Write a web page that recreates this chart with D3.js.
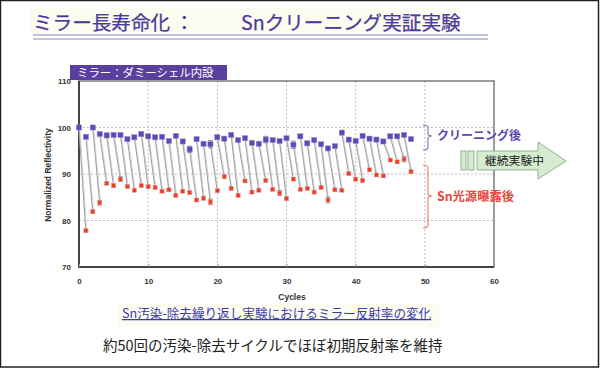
<!DOCTYPE html>
<html><head><meta charset="utf-8">
<script src="https://cdn.jsdelivr.net/npm/d3@7"></script>
<style>html,body{margin:0;padding:0;background:#fff;}svg{display:block;}</style>
</head><body>
<script>
// ---- data ----
const blueCycles = [0,1,2,3,4,5,6,7,8,9,10,11,12,13,14,15,16,17,18,19,20,21,22,23,24,25,26,27,28,29,30,31,32,33,34,35,36,37,38,39,40,41,42,43,44,45,46,47,48];
const cleanedValues = [100,98.0,100,98.6,98.3,98.4,98.4,97.5,97.9,98.6,98.1,97.9,98.0,97.1,98.2,97.0,95.3,97.5,96.5,96.4,97.9,97.6,98.4,97.3,97.7,96.7,96.5,97.4,97.3,97.1,97.7,96.3,98.1,96.6,97.3,96.4,95.5,96.0,98.9,97.4,97.1,98.2,97.6,97.4,97.0,98.1,98.1,98.4,97.5];
const cleanedErr = [0.2,0.3,0.2,0.3,0.5,0.3,0.3,0.3,0.3,0.4,0.3,0.3,0.3,0.3,0.3,0.3,0.7,0.3,0.3,0.8,0.3,0.3,0.3,0.3,0.3,0.3,0.3,0.7,0.3,0.3,0.3,0.8,0.3,0.3,0.3,0.3,0.3,0.3,0.3,0.3,0.3,0.3,0.3,0.3,0.3,0.3,0.3,0.3,0.3];
const redCycles = [1,2,3,4,5,6,7,8,9,10,11,12,13,14,15,16,17,18,19,20,21,22,23,24,25,26,27,28,29,30,31,32,33,34,35,36,37,38,39,40,41,42,43,44,45,46,47,48];
const exposedValues = [77.8,81.9,83.8,88.0,87.5,88.9,87.3,86.5,87.5,87.3,87.1,86.3,86.6,85.4,86.3,86.0,84.4,84.8,84.0,86.4,89.4,86.9,85.4,88.5,86.1,86.5,88.6,86.7,85.9,84.7,88.9,86.7,86.9,86.1,87.1,84.4,86.6,86.5,90.1,88.9,88.6,90.9,89.8,89.6,93.0,92.6,93.2,90.5];
const exposedErr = [0.3,0.3,0.5,0.3,0.4,0.5,0.3,0.3,0.3,0.3,0.3,0.3,0.3,0.3,0.3,0.3,0.3,0.4,0.6,0.3,0.4,0.3,0.3,0.3,0.3,0.3,0.3,0.3,0.5,0.3,0.3,0.3,0.3,0.3,0.3,0.6,0.3,0.3,0.3,0.3,0.3,0.3,0.3,0.3,0.3,0.3,0.6,0.3];
const xTicks = [0,10,20,30,40,50,60];
const yTicks = [70,80,90,100,110];

const titleLeft = "ミラー長寿命化 ：";
const titleRight = "Snクリーニング実証実験";
const boxLabel = "ミラー：ダミーシェル内設";
const yTitle = "Normalized Reflectivity";
const xTitle = "Cycles";
const cleanedLabel = "クリーニング後";
const exposedLabel = "Sn光源曝露後";
const arrowLabel = "継続実験中";
const caption = "Sn汚染-除去繰り返し実験におけるミラー反射率の変化";
const conclusion = "約50回の汚染-除去サイクルでほぼ初期反射率を維持";

// ---- layout ----
const W = 600, H = 369;
const jp = "'Noto Sans CJK JP','Noto Sans',sans-serif";
const lat = "'Liberation Sans',Arial,sans-serif";
const svg = d3.select("body").append("svg").attr("width", W).attr("height", H);

svg.append("rect").attr("x",0).attr("y",0).attr("width",W).attr("height",H).attr("fill","#fff");

// title
svg.append("rect").attr("x",30).attr("y",8).attr("width",430).attr("height",26).attr("fill","#fdfcf1");
svg.append("text").attr("x",33).attr("y",30).attr("font-family",jp).attr("font-size",19.6)
  .attr("fill","#4a3a9c").attr("stroke","#4a3a9c").attr("stroke-width",0.25).text(titleLeft);
svg.append("text").attr("x",241).attr("y",30).attr("font-family",jp).attr("font-size",19.6)
  .attr("fill","#4a3a9c").attr("stroke","#4a3a9c").attr("stroke-width",0.25).text(titleRight);
svg.append("line").attr("x1",33).attr("x2",488).attr("y1",35).attr("y2",35).attr("stroke","#aeb0cc").attr("stroke-width",1.5);
svg.append("line").attr("x1",33).attr("x2",488).attr("y1",39).attr("y2",39).attr("stroke","#aeb0cc").attr("stroke-width",1.5);

// plot
const x = d3.scaleLinear().domain([0,60]).range([79,494]);
const y = d3.scaleLinear().domain([70,110]).range([267,81]);

const g = svg.append("g");
// grid
g.selectAll(".vg").data(xTicks.slice(1,-1)).join("line")
  .attr("x1",d=>x(d)).attr("x2",d=>x(d)).attr("y1",y(110)).attr("y2",y(70))
  .attr("stroke","#bdbdbd").attr("stroke-width",1).attr("stroke-dasharray","2,2");
g.selectAll(".hg").data(yTicks.slice(1,-1)).join("line")
  .attr("x1",x(0)).attr("x2",x(60)).attr("y1",d=>y(d)).attr("y2",d=>y(d))
  .attr("stroke","#bdbdbd").attr("stroke-width",1).attr("stroke-dasharray","2,2");

// frame
g.append("rect").attr("x",x(0)).attr("y",y(110)).attr("width",x(60)-x(0)).attr("height",y(70)-y(110))
  .attr("fill","none").attr("stroke","#666").attr("stroke-width",1.3);
g.append("path").attr("d",`M${x(0)},${y(110)}V${y(70)}H${x(60)}`).attr("fill","none").attr("stroke","#444").attr("stroke-width",2);

// axes
const xAxis = d3.axisBottom(x).tickValues(xTicks).tickSize(-3).tickPadding(11);
const yAxis = d3.axisLeft(y).tickValues(yTicks).tickSize(0).tickPadding(8);
const gx = svg.append("g").attr("transform",`translate(0,${y(70)})`).call(xAxis);
const gy = svg.append("g").attr("transform",`translate(${x(0)},0)`).call(yAxis);
[gx,gy].forEach(a=>{
  a.select(".domain").remove();
  a.selectAll(".tick line").attr("stroke","#999");
  a.selectAll("text").attr("font-family",lat).attr("font-size",8).attr("font-weight","bold").attr("fill","#333");
});
svg.append("text").attr("transform",`translate(51,${(y(110)+y(70))/2+1}) rotate(-90)`).attr("text-anchor","middle")
  .attr("font-family",lat).attr("font-size",8.5).attr("font-weight","bold").attr("fill","#333").text(yTitle);
svg.append("text").attr("x",292).attr("y",300).attr("text-anchor","middle")
  .attr("font-family",lat).attr("font-size",8.5).attr("font-weight","bold").attr("fill","#333").text(xTitle);

// label box
svg.append("rect").attr("x",70).attr("y",65).attr("width",157).attr("height",15).attr("fill","#5b3f9f");
svg.append("text").attr("x",77).attr("y",77.3).attr("font-family",jp).attr("font-size",11.4).attr("fill","#fff").text(boxLabel);

// data
const blue = blueCycles.map((c,i)=>({c, v:cleanedValues[i], e:cleanedErr[i]}));
const red = redCycles.map((c,i)=>({c, v:exposedValues[i], e:exposedErr[i]}));
const segs = red.map((r,i)=>[blue[i], r]);
const line = d3.line().x(d=>x(d.c)).y(d=>y(d.v));
g.selectAll(".seg").data(segs).join("path").attr("d",line)
  .attr("fill","none").attr("stroke","#a3a3a3").attr("stroke-width",1.3);
g.selectAll(".seg2").data(segs).join("path").attr("d",line).attr("transform","translate(0.8,0)")
  .attr("fill","none").attr("stroke","#cfcfcf").attr("stroke-width",0.7);

function errBars(data){
  const eg = g.append("g").attr("stroke","#8a8a8a").attr("stroke-width",0.9);
  eg.selectAll(".eb").data(data).join("path")
    .attr("d",d=>`M${x(d.c)},${y(d.v+d.e)}V${y(d.v-d.e)}M${x(d.c)-2.5},${y(d.v+d.e)}h5M${x(d.c)-2.5},${y(d.v-d.e)}h5`)
    .attr("fill","none");
}
errBars(blue); errBars(red);

g.selectAll(".bm").data(blue).join("rect")
  .attr("x",d=>x(d.c)-2.6).attr("y",d=>y(d.v)-2.6).attr("width",5.2).attr("height",5.2)
  .attr("fill","#5c47bf").attr("stroke","#9a94c4").attr("stroke-width",0.5);
g.selectAll(".rm").data(red).join("rect")
  .attr("x",d=>x(d.c)-2).attr("y",d=>y(d.v)-2).attr("width",4).attr("height",4)
  .attr("fill","#ee3a28").attr("stroke","#f0a090").attr("stroke-width",0.5);

// braces
function brace(x0,top,mid,bot,w){
  const xm = x0 + w*0.55, r = 3;
  return `M${x0},${top}Q${xm},${top} ${xm},${top+r}L${xm},${mid-r}Q${xm},${mid} ${x0+w},${mid}Q${xm},${mid} ${xm},${mid+r}L${xm},${bot-r}Q${xm},${bot} ${x0},${bot}`;
}
svg.append("path").attr("d",brace(423,125,136,150,9)).attr("fill","none").attr("stroke","#7d6fcc").attr("stroke-width",1.1);
svg.append("path").attr("d",brace(423,165,196,228,9)).attr("fill","none").attr("stroke","#f07a68").attr("stroke-width",1.1);
svg.append("text").attr("x",437).attr("y",140).attr("font-family",jp).attr("font-size",12).attr("font-weight","bold")
  .attr("fill","#5a48b0").text(cleanedLabel);
svg.append("text").attr("x",437).attr("y",201).attr("font-family",jp).attr("font-size",12.3).attr("font-weight","bold")
  .attr("fill","#e8453c").text(exposedLabel);

// arrow
const ag = svg.append("g").attr("fill","#d6ecd0").attr("stroke","#8fb58c").attr("stroke-width",1);
ag.append("rect").attr("x",461).attr("y",151).attr("width",5).attr("height",19);
ag.append("rect").attr("x",468).attr("y",151).attr("width",6).attr("height",19);
ag.append("path").attr("d","M477,151H538V142L566,161L538,179V170H477Z");
svg.append("text").attr("x",485).attr("y",165).attr("font-family",jp).attr("font-size",11.8).attr("fill","#222").text(arrowLabel);

// caption
svg.append("rect").attr("x",118).attr("y",304).attr("width",322).attr("height",23).attr("fill","#fdfcf1");
svg.append("text").attr("x",122).attr("y",318).attr("font-family",jp).attr("font-size",12.6)
  .attr("fill","#3b3bb0").attr("text-decoration","underline").text(caption);
svg.append("text").attr("x",103).attr("y",351).attr("font-family",jp).attr("font-size",14.5)
  .attr("fill","#222").text(conclusion);

// outer border
svg.append("rect").attr("x",0.5).attr("y",0.5).attr("width",W-2).attr("height",H-2.5)
  .attr("fill","none").attr("stroke","#222").attr("stroke-width",1.5);
</script>
</body></html>
